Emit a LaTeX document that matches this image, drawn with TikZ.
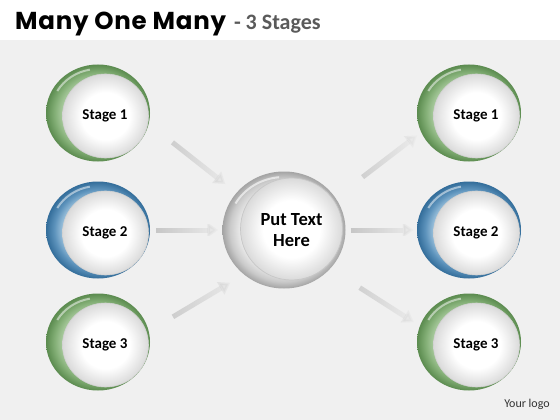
\documentclass[tikz,border=0pt]{standalone}
\usepackage{fontspec}
\setmainfont{Carlito}
\newfontfamily\titlefont{Poppins}[LetterSpace=3]
\usetikzlibrary{shapes.geometric,arrows.meta,fadings}

\definecolor{bandgray}{HTML}{F0F0F0}
\definecolor{subgray}{HTML}{5A5A5A}
\definecolor{arrowgray}{HTML}{C2C2C2}
\definecolor{grnlight}{HTML}{AACB9F}
\definecolor{grnmid}{HTML}{82AE75}
\definecolor{grndark}{HTML}{5B8B4F}
\definecolor{blulight}{HTML}{9DC2DC}
\definecolor{blumid}{HTML}{5D93BC}
\definecolor{bludark}{HTML}{336D9A}
\definecolor{hublight}{HTML}{E8E8E8}
\definecolor{hubmid}{HTML}{CACACA}
\definecolor{hubdark}{HTML}{A4A4A4}
\definecolor{discedge}{HTML}{DADADA}

\pgfdeclareradialshading{greenring}{\pgfpoint{0bp}{0bp}}{color(0bp)=(grnlight); color(17bp)=(grnlight); color(21bp)=(grnmid); color(25bp)=(grndark); color(50bp)=(grndark)}
\pgfdeclareradialshading{bluering}{\pgfpoint{0bp}{0bp}}{color(0bp)=(blulight); color(17bp)=(blulight); color(21bp)=(blumid); color(25bp)=(bludark); color(50bp)=(bludark)}
\pgfdeclareradialshading{greyring}{\pgfpoint{0bp}{0bp}}{color(0bp)=(hublight); color(18bp)=(hublight); color(22bp)=(hubmid); color(25bp)=(hubdark); color(50bp)=(hubdark)}
\pgfdeclareradialshading{whitedisc}{\pgfpoint{0bp}{0bp}}{color(0bp)=(white); color(14bp)=(white); color(25bp)=(discedge); color(50bp)=(discedge)}

% label sits on the white disc, not on the ring centre
\newcommand{\stagelabel}[1]{\hspace*{14pt}\raisebox{-3pt}[\height][\depth]{#1}}

\tikzset{
  stage/.style={ellipse, minimum width=104pt, minimum height=97pt, inner sep=0pt,
    shade, shading=#1, font=\bfseries\fontsize{15}{18}\selectfont,
    path picture={
      \draw[white, opacity=.5, line width=2pt] ([shift={(-150:47 and 44)}]path picture bounding box.center)
        arc[start angle=-150, end angle=-100, x radius=47, y radius=44];
      \shade[shading=whitedisc, draw=black!18, line width=.6pt]
        ([shift={(7.5,3)}]path picture bounding box.center) ellipse [x radius=43, y radius=42];
    }},
  hub/.style={ellipse, minimum width=123pt, minimum height=117pt, inner sep=0pt,
    shade, shading=greyring, align=center, font=\bfseries\fontsize{18.5}{21}\selectfont,
    path picture={
      \draw[white, opacity=.6, line width=2pt] ([shift={(-150:56 and 53)}]path picture bounding box.center)
        arc[start angle=-150, end angle=-95, x radius=56, y radius=53];
      \shade[shading=whitedisc, draw=black!22, line width=.7pt]
        ([shift={(7.5,-1)}]path picture bounding box.center) ellipse [x radius=51, y radius=51];
    }},
  flow/.style={draw=arrowgray, line width=5pt, -{Triangle[width=14pt,length=11pt]}, path fading=east},
}

\begin{document}
\begin{tikzpicture}[x=1pt, y=-1pt]
  \useasboundingbox (0,0) rectangle (560,420);
  \fill[white] (0,0) rectangle (560,40);
  \fill[bandgray] (0,40) rectangle (560,420);

  % title
  \node[anchor=base west, inner sep=0pt] (title) at (15,30)
    {\titlefont\bfseries\fontsize{24.5}{28}\selectfont Many One Many\hspace{8pt}{\color{subgray}\fontspec{Carlito}\bfseries\fontsize{22}{26}\selectfont - 3 Stages}};

  % circles
  \node[stage=greenring] (l1) at (98,113) {\stagelabel{Stage 1}};
  \node[stage=bluering]  (l2) at (98,230) {\stagelabel{Stage 2}};
  \node[stage=greenring] (l3) at (98,342) {\stagelabel{Stage 3}};
  \node[hub] (hub) at (284,230) {\hspace*{15pt}Put Text\\\hspace*{15pt}Here};
  \node[stage=greenring] (r1) at (469,113) {\stagelabel{Stage 1}};
  \node[stage=bluering]  (r2) at (469,230) {\stagelabel{Stage 2}};
  \node[stage=greenring] (r3) at (469,342) {\stagelabel{Stage 3}};

  % arrows
  \draw[flow, shorten <=30pt, shorten >=14pt] (l1.-12) -- (hub.142);
  \draw[flow, shorten <=6pt, shorten >=4pt] (l2) -- (hub);
  \draw[flow, shorten <=28pt, shorten >=16pt] (l3.12) -- (hub.228);
  \draw[flow, shorten <=34pt, shorten >=5pt] (hub.32) -- (r1.202);
  \draw[flow, shorten <=5pt, shorten >=3pt] (hub) -- (r2);
  \draw[flow, shorten <=35pt, shorten >=7pt] (hub.-40) -- (r3.162);

  \node[font=\fontsize{12}{14}\selectfont, text=black!80] (logo) at (527,404) {Your logo};
\end{tikzpicture}
\end{document}
